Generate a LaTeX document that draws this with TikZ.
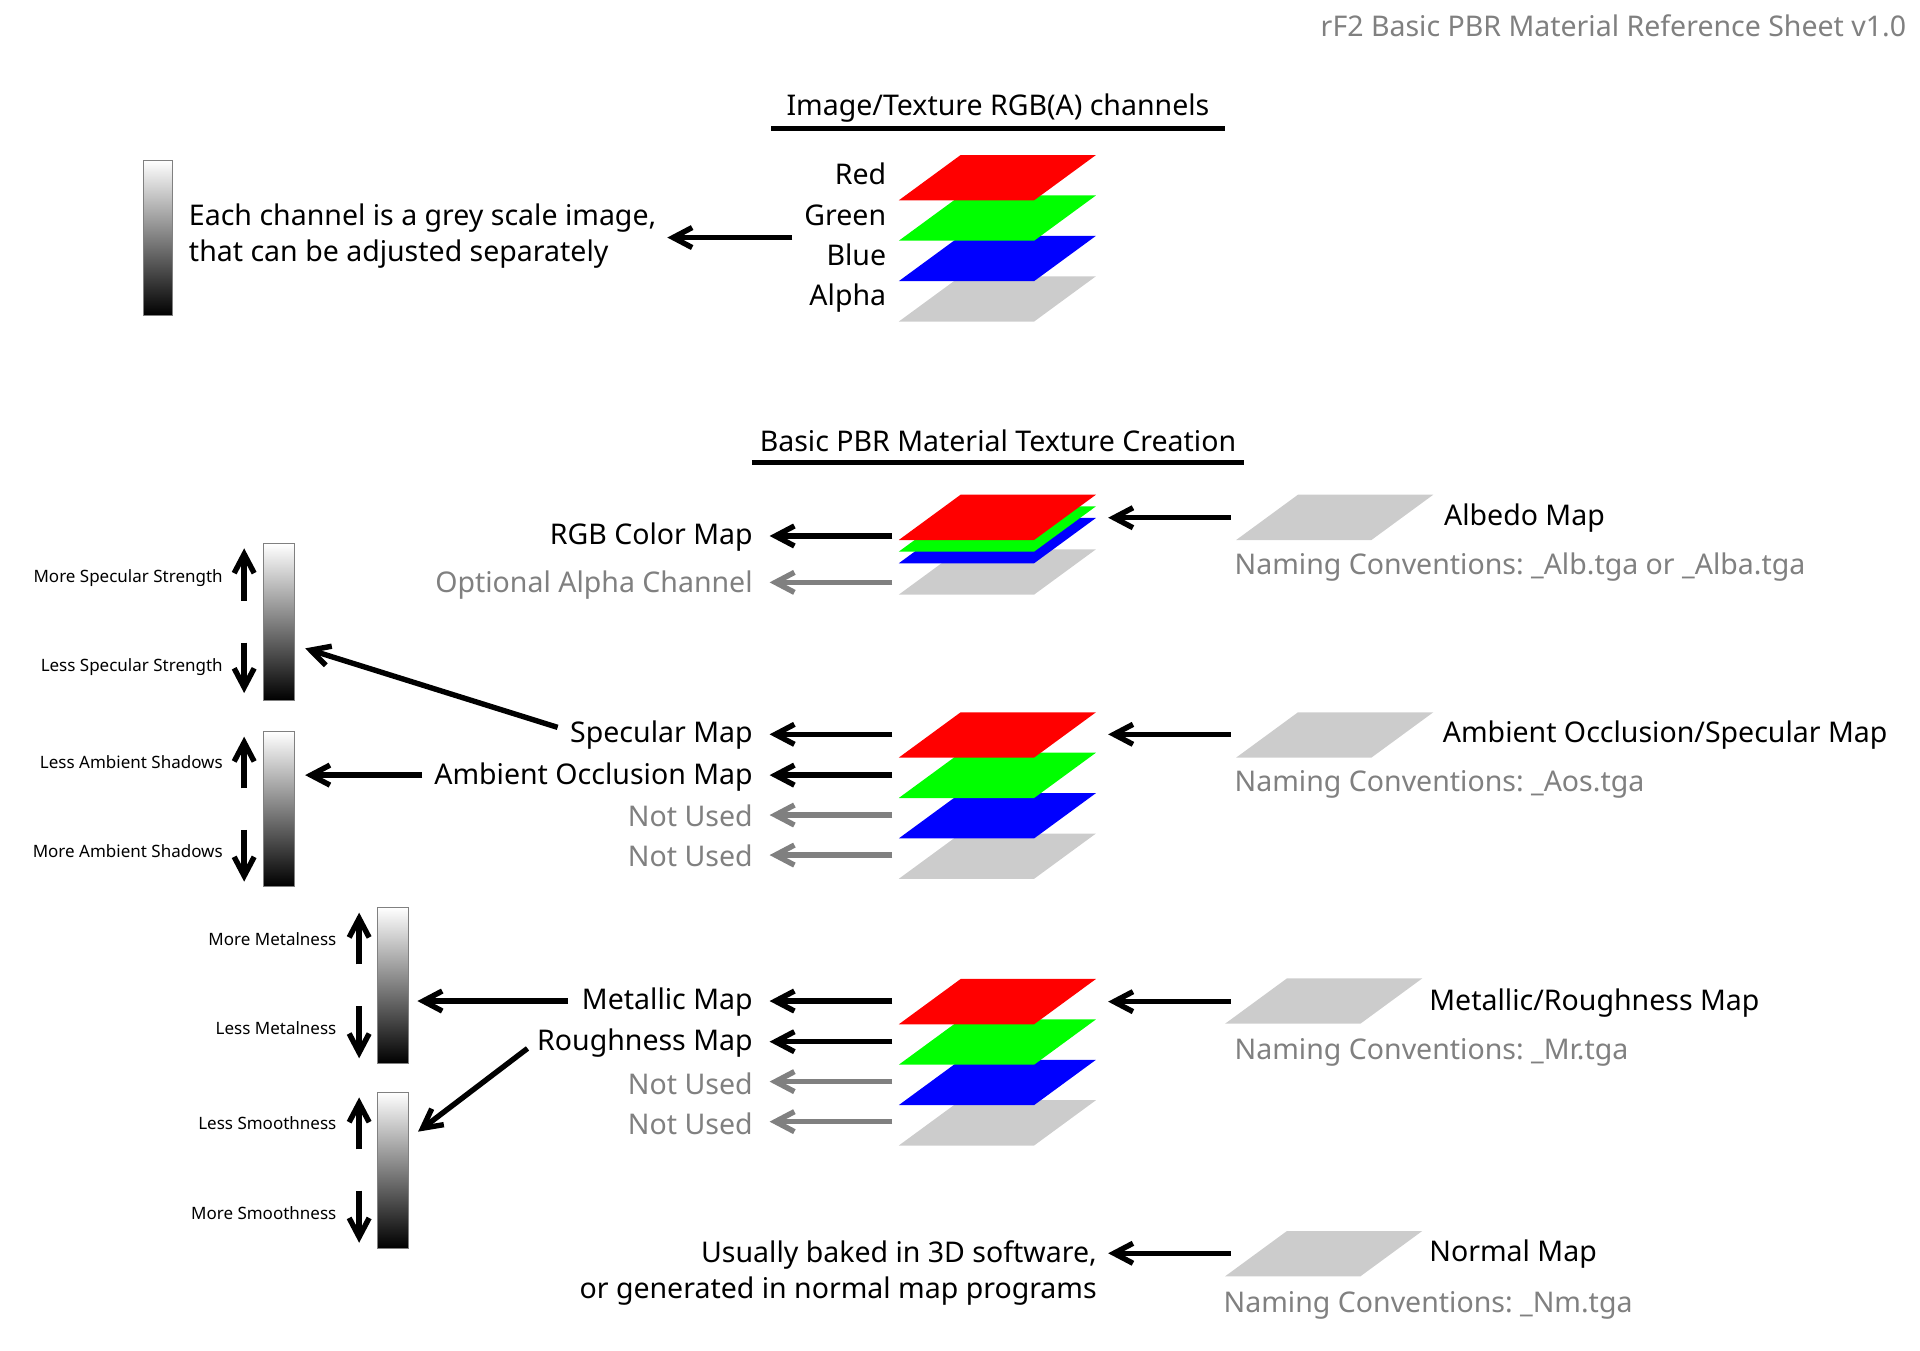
\documentclass[tikz,border=0pt]{standalone}
\usepackage{fontspec}
\setmainfont{Noto Sans}
\frenchspacing
\usetikzlibrary{arrows.meta}
\definecolor{lyred}{RGB}{255,0,0}
\definecolor{lygreen}{RGB}{0,255,0}
\definecolor{lyblue}{RGB}{0,0,255}
\definecolor{lygrey}{RGB}{204,204,204}
\definecolor{txtgrey}{RGB}{128,128,128}
\newcommand\layer[3]{\fill[#1] (#2,#3+37) -- ++(110.5,0) -- ++(50.5,-37) -- ++(-110.5,0) -- cycle;}
\newcommand\stackfour[2]{\layer{lygrey}{#1}{#2+99}\layer{lyblue}{#1}{#2+66}\layer{lygreen}{#1}{#2+33}\layer{lyred}{#1}{#2}}
\newcommand\conn[4]{\coordinate (#1s) at (#2); \coordinate (#1e) at (#3); \draw[#4] (#1s) -- (#1e);}
\newcommand\gbar[5]{\shade[top color=white, bottom color=black, draw=gray, line width=0.5pt] (#2,#3) rectangle (#4,#5); \coordinate (#1) at ({(#2+#4)/2},{(#3+#5)/2});}
\begin{document}
\begin{tikzpicture}[x=0.61224pt,y=-0.61224pt,
  lbl/.style={font=\fontsize{14.25}{17}\selectfont, inner sep=0pt},
  sml/.style={font=\fontsize{8.5}{10}\selectfont, inner sep=0pt},
  gt/.style={text=txtgrey},
  arr/.style={line width=2.7pt, -{Straight Barb[length=9.5pt,width=10pt]}},
  garr/.style={arr, draw=txtgrey},
  uline/.style={line width=2.4pt}]
\useasboundingbox (0,0) rectangle (1568,1102.5);
% header
\node[lbl, gt, anchor=base east] (sheet) at (1557,29.5) {rF2 Basic PBR Material Reference Sheet v1.0};
\node[lbl, anchor=base] (t1) at (815,94.5) {Image/Texture RGB(A) channels};
\conn{u1}{630,104.8}{1000,104.8}{uline}
% top stack
\stackfour{734}{126.6}
\node[lbl, anchor=base east] (red) at (724,151) {Red};
\node[lbl, anchor=base east] (green) at (724,184.2) {Green};
\node[lbl, anchor=base east] (blue) at (724,217) {Blue};
\node[lbl, anchor=base east] (alpha) at (724,249.5) {Alpha};
\gbar{bar0}{117}{130.7}{141}{258}
\node[lbl, anchor=base west] (each1) at (154,184.5) {Each channel is a grey scale image,};
\node[lbl, anchor=base west] (each2) at (154,213.5) {that can be adjusted separately};
\conn{a0}{647,194}{545,194}{arr}
% section 2 title
\node[lbl, anchor=base] (t2) at (815,368.5) {Basic PBR Material Texture Creation};
\conn{u2}{614,377.5}{1016,377.5}{uline}
% albedo stack
\layer{lygrey}{734}{448.6}
\layer{lyblue}{734}{423}
\layer{lygreen}{734}{413.5}
\layer{lyred}{734}{404}
\node[lbl, anchor=base east] (rgbmap) at (615,444.5) {RGB Color Map};
\node[lbl, gt, anchor=base east] (optalpha) at (615,483.5) {Optional Alpha Channel};
\conn{b1}{728.7,437.7}{628.5,437.7}{arr}
\conn{b2}{728.7,475.6}{628.5,475.6}{garr}
\layer{lygrey}{1009.5}{404}
\conn{b3}{1005,422.8}{905,422.8}{arr}
\node[lbl, anchor=base west] (albedo) at (1179,429.5) {Albedo Map};
\node[lbl, gt, anchor=base west] (albn) at (1008,469) {Naming Conventions: \_Alb.tga or \_Alba.tga};
% specular / AO bars
\gbar{bar1}{215}{444}{240.6}{572}
\gbar{bar2}{215}{597.5}{240.6}{724}
\node[sml, anchor=base east] (msp) at (182.2,475.5) {More Specular Strength};
\node[sml, anchor=base east] (lsp) at (182.2,548) {Less Specular Strength};
\node[sml, anchor=base east] (las) at (182.2,628) {Less Ambient Shadows};
\node[sml, anchor=base east] (mas) at (182.2,700.5) {More Ambient Shadows};
\conn{c1}{199.4,490.5}{199.4,447.8}{arr}
\conn{c2}{199.4,524.8}{199.4,566}{arr}
\conn{c3}{199.4,643.8}{199.4,601.6}{arr}
\conn{c4}{199.4,677.8}{199.4,720}{arr}
% AOS stack
\stackfour{734}{581.7}
\node[lbl, anchor=base east] (spmap) at (615,606.5) {Specular Map};
\node[lbl, anchor=base east] (aomap) at (615,640.5) {Ambient Occlusion Map};
\node[lbl, gt, anchor=base east] (nu1) at (615,675) {Not Used};
\node[lbl, gt, anchor=base east] (nu2) at (615,708) {Not Used};
\conn{d1}{728.7,599.7}{628.5,599.7}{arr}
\conn{d2}{728.7,633}{628.5,633}{arr}
\conn{d3}{728.7,665.6}{628.5,665.6}{garr}
\conn{d4}{728.7,698.3}{628.5,698.3}{garr}
\conn{d5}{455.4,594}{249.2,529.5}{arr}
\conn{d6}{344.9,633}{249.2,633}{arr}
\layer{lygrey}{1009.5}{581.7}
\conn{d7}{1005,599.7}{905,599.7}{arr}
\node[lbl, anchor=base west] (aos) at (1178,606.5) {Ambient Occlusion/Specular Map};
\node[lbl, gt, anchor=base west] (aosn) at (1008,646.5) {Naming Conventions: \_Aos.tga};
% metal / smooth bars
\gbar{bar3}{308.2}{741}{334}{868.4}
\gbar{bar4}{308.2}{891.8}{334}{1019.2}
\node[sml, anchor=base east] (mme) at (275,772.3) {More Metalness};
\node[sml, anchor=base east] (lme) at (275,845) {Less Metalness};
\node[sml, anchor=base east] (lsm) at (275,922.8) {Less Smoothness};
\node[sml, anchor=base east] (msm) at (275,995.5) {More Smoothness};
\conn{e1}{293.3,787.5}{293.3,745.3}{arr}
\conn{e2}{293.3,821.6}{293.3,864.3}{arr}
\conn{e3}{293.3,938.6}{293.3,896.2}{arr}
\conn{e4}{293.3,972.4}{293.3,1014.9}{arr}
% MR stack
\stackfour{734}{799.5}
\node[lbl, anchor=base east] (mtmap) at (615,824.5) {Metallic Map};
\node[lbl, anchor=base east] (rgmap) at (615,858) {Roughness Map};
\node[lbl, gt, anchor=base east] (nu3) at (615,893.5) {Not Used};
\node[lbl, gt, anchor=base east] (nu4) at (615,926.5) {Not Used};
\conn{f1}{728.7,817.5}{628.5,817.5}{arr}
\conn{f2}{728.7,850.7}{628.5,850.7}{arr}
\conn{f3}{728.7,883.3}{628.5,883.3}{garr}
\conn{f4}{728.7,916}{628.5,916}{garr}
\conn{f5}{464,817.5}{340.9,817.5}{arr}
\conn{f6}{430.8,856.2}{341.4,924.2}{arr}
\layer{lygrey}{1000.5}{799}
\conn{f7}{1005,818}{905,818}{arr}
\node[lbl, anchor=base west] (mr) at (1167,825) {Metallic/Roughness Map};
\node[lbl, gt, anchor=base west] (mrn) at (1008,865.5) {Naming Conventions: \_Mr.tga};
% normal
\layer{lygrey}{1000.5}{1005.3}
\conn{g1}{1005,1023.5}{905,1023.5}{arr}
\node[lbl, anchor=base west] (nm) at (1167,1030.5) {Normal Map};
\node[lbl, gt, anchor=base west] (nmn) at (999,1072) {Naming Conventions: \_Nm.tga};
\node[lbl, anchor=base east] (bk1) at (896,1031) {Usually baked in 3D software,};
\node[lbl, anchor=base east] (bk2) at (896,1060.5) {or generated in normal map programs};
\end{tikzpicture}
\end{document}
